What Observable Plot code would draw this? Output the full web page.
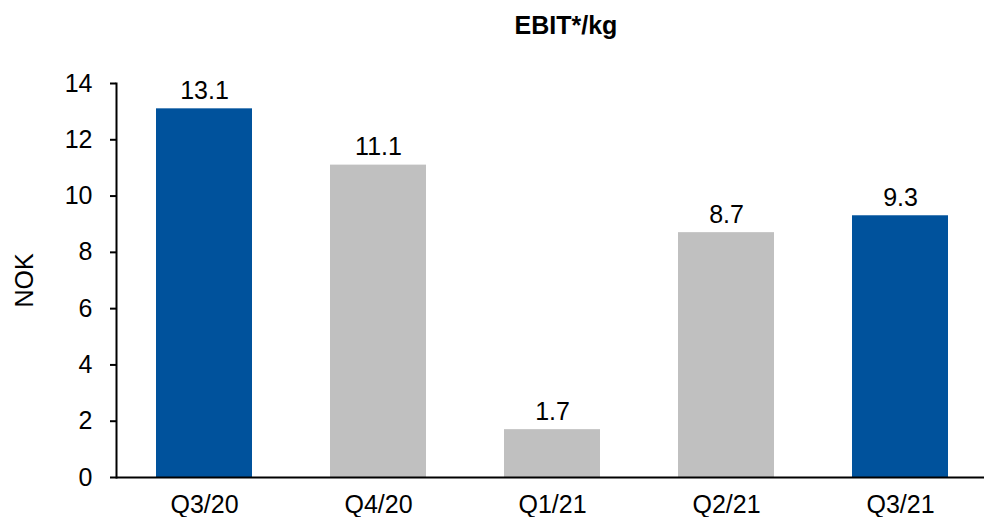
<!DOCTYPE html>
<html>
<head>
<meta charset="utf-8">
<script src="https://cdn.jsdelivr.net/npm/d3@7"></script>
<script src="https://cdn.jsdelivr.net/npm/@observablehq/plot@0.6"></script>
<style>
  html, body { margin: 0; padding: 0; background: #fff; }
  #wrap { position: relative; width: 984px; height: 517px; font-family: "Liberation Sans", Arial, sans-serif; }
  #title { position: absolute; left: 366px; width: 400px; top: 13px; text-align: center; font-weight: bold; font-size: 25px; line-height: 25px; color: #000; }
  #chart { position: absolute; left: 0; top: 0; }
</style>
</head>
<body>
<div id="wrap">
  <div id="chart"></div>
  <div id="title">EBIT*/kg</div>
</div>
<script>
const quarters = ["Q3/20", "Q4/20", "Q1/21", "Q2/21", "Q3/21"];
const values = [13.1, 11.1, 1.7, 8.7, 9.3];
const highlighted = ["Q3/20", "Q3/21"];
const yTicks = [0, 2, 4, 6, 8, 10, 12, 14];

const data = quarters.map((q, i) => ({quarter: q, value: values[i], hi: highlighted.includes(q)}));

const chart = Plot.plot({
  width: 984,
  height: 517,
  marginTop: 83,
  marginBottom: 40,
  marginLeft: 116,
  marginRight: 0,
  style: {fontFamily: "'Liberation Sans', Arial, sans-serif", fontSize: "25px", color: "#000", background: "#fff"},
  x: {domain: quarters, range: [117, 988], paddingInner: 0.446, paddingOuter: 0.223, align: 0.5},
  y: {domain: [0, 14]},
  marks: [
    Plot.barY(data, {x: "quarter", y: "value", fill: d => d.hi ? "#00529C" : "#C0C0C0"}),
    Plot.text(data, {x: "quarter", y: "value", text: d => d.value.toFixed(1), lineAnchor: "bottom", dy: -10, fontSize: 25, fill: "#000"}),
    Plot.axisY({ticks: yTicks, tickFormat: d => String(d), tickSize: 6, tickPadding: 18, fontSize: 25, stroke: "#000", strokeWidth: 2, strokeOpacity: 1, label: "NOK", labelAnchor: "center", labelArrow: "none", labelOffset: 101}),
    Plot.frame({anchor: "left", stroke: "#000", strokeWidth: 2}),
    Plot.axisX({tickSize: 0, tickPadding: 18, fontSize: 25, label: null}),
    Plot.ruleY([0], {stroke: "#000", strokeWidth: 2})
  ]
});
document.getElementById("chart").appendChild(chart);
</script>
</body>
</html>
